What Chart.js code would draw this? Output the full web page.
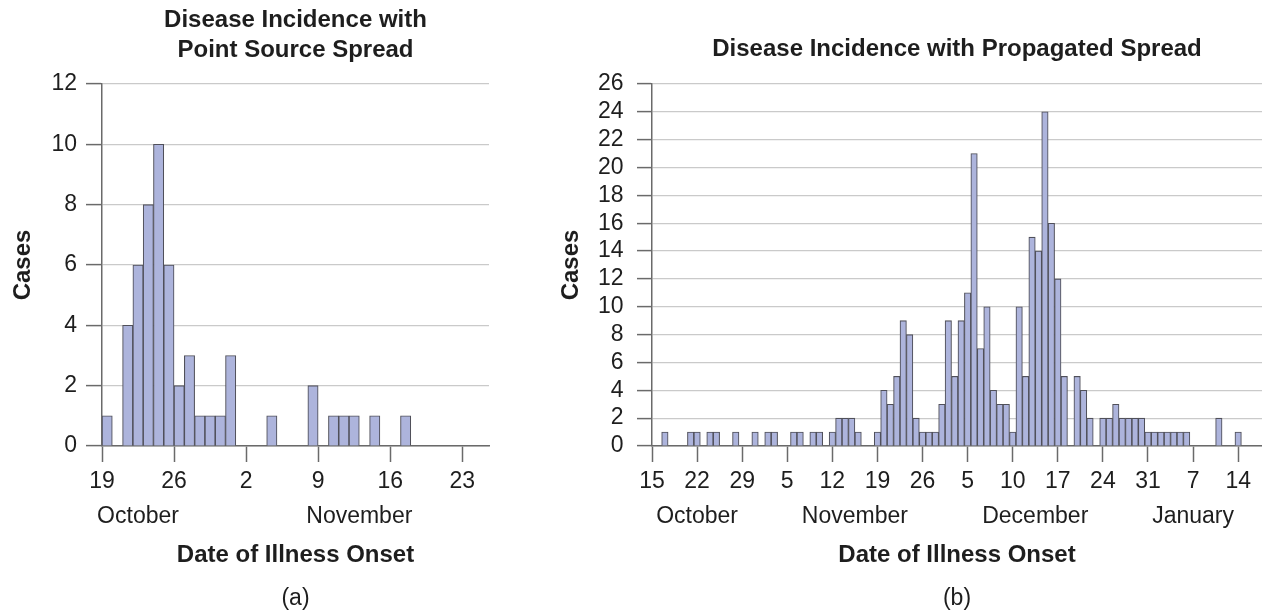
<!DOCTYPE html>
<html><head><meta charset="utf-8">
<script src="https://cdn.jsdelivr.net/npm/chart.js@4.4.1/dist/chart.umd.min.js"></script>
<style>
html,body{margin:0;padding:0;background:#fff;width:1262px;height:611px;overflow:hidden}
.c{position:absolute;top:0}
canvas{display:block}
</style></head><body>
<div class="c" style="left:0"><canvas id="a" width="545" height="611"></canvas></div>
<div class="c" style="left:545px"><canvas id="b" width="717" height="611"></canvas></div>
<script>
// ---------- (a) Point source spread ----------
const pointTitle = ['Disease Incidence with', 'Point Source Spread'];
const pointFirstDay = 0;            // day 0 = October 19
const pointCases = [1,0,4,6,8,10,6,2,3,1,1,1,3,0,0,0,1,0,0,0,2,0,1,1,1,0,1,0,0,1];
const pointTickLabels = ['19','26','2','9','16','23'];
const pointMonths = ['October','November'];
const pointMonthDays = [3.5, 25];

// ---------- (b) Propagated spread ----------
const propTitle = 'Disease Incidence with Propagated Spread';
const propFirstDay = 2;             // day 0 = October 15
const propCases = [1,0,0,0,1,1,0,1,1,0,
                   0,1,0,0,1,0,1,1,0,0,
                   1,1,0,1,1,0,1,2,2,2,
                   1,0,0,1,4,3,5,9,8,2,
                   1,1,1,3,9,5,9,11,21,7,
                   10,4,3,3,1,10,5,15,14,24,
                   16,12,5,0,5,4,2,0,2,2,
                   3,2,2,2,2,1,1,1,1,1,
                   1,1,0,0,0,0,2,0,0,1];
const propTickLabels = ['15','22','29','5','12','19','26','5','10','17','24','31','7','14'];
const propMonths = ['October','November','December','January'];
const propMonthDays = [7, 31.5, 59.5, 84];

Chart.defaults.font.family = "'Liberation Sans', Arial, Helvetica, sans-serif";
Chart.defaults.color = '#1e1e1e';

const FILL = '#adb4dc', EDGE = '#50505a', GRID = '#cacaca', AXIS = '#6a6a6a';

function build(id, o) {
  const pts = [];
  o.cases.forEach((v, i) => { if (v > 0) pts.push({x: o.firstDay + i + o.barShift, y: v}); });
  return new Chart(document.getElementById(id), {
    type: 'bar',
    data: {datasets: [{data: pts, backgroundColor: FILL, borderColor: EDGE, borderWidth: 1.1,
      barPercentage: 1, categoryPercentage: 1, borderSkipped: 'start'}]},
    options: {
      responsive: false, animation: false, events: [],
      layout: {padding: o.pad},
      plugins: {
        legend: {display: false}, tooltip: {enabled: false},
        title: {display: true, text: o.title, fullSize: false, color: '#1e1e1e',
          font: {size: 24, weight: 'bold', lineHeight: 1.22}, padding: o.titlePad},
        subtitle: {display: true, position: 'bottom', fullSize: false, text: o.tag, color: '#1e1e1e',
          font: {size: 23, weight: 'normal', lineHeight: 1}, padding: {top: 17, bottom: 1}}
      },
      scales: {
        x: {type: 'linear', position: 'bottom', min: 0, max: o.xMax, offset: false, weight: 0,
          afterBuildTicks: s => { s.ticks = o.tickLabels.map((_, i) => ({value: i * 7})); },
          afterFit: s => { s.height = 50; },
          ticks: {autoSkip: false, maxRotation: 0, minRotation: 0, padding: 6, font: {size: 23},
            callback: (v, i) => o.tickLabels[i]},
          grid: {display: true, drawOnChartArea: false, drawTicks: true, tickLength: 16,
            tickColor: AXIS, tickWidth: 1.5, offset: false},
          border: {display: true, color: AXIS, width: 1.5}},
        m: {type: 'linear', position: 'bottom', min: 0, max: o.xMax, offset: false, weight: 1,
          afterBuildTicks: s => { s.ticks = o.monthDays.map(v => ({value: v})); },
          afterFit: s => { s.height = 74; },
          ticks: {autoSkip: false, maxRotation: 0, minRotation: 0, padding: 6.5, font: {size: 23},
            callback: (v, i) => o.months[i]},
          grid: {display: false, drawTicks: false, offset: false},
          border: {display: false},
          title: {display: true, text: 'Date of Illness Onset', color: '#1e1e1e',
            font: {size: 24, weight: 'bold', lineHeight: 1.2}, padding: {top: 0, bottom: 0}}},
        y: {type: 'linear', min: 0, max: o.yMax,
          ticks: {stepSize: 2, autoSkip: false, padding: o.yPad, font: {size: 23, lineHeight: 1}},
          afterFit: s => { s.width = o.yWidth; },
          grid: {color: GRID, lineWidth: 1.2, tickColor: AXIS, tickLength: o.yTick, tickWidth: 1.5},
          border: {display: true, color: AXIS, width: 1.5},
          title: {display: true, text: 'Cases', color: '#1e1e1e',
            font: {size: 24, weight: 'bold', lineHeight: 1.2}, padding: {top: o.yTitlePad, bottom: 0}}}
      }
    }
  });
}

build('a', {
  cases: pointCases, firstDay: pointFirstDay, barShift: 0.5,
  title: pointTitle, tag: '(a)', tickLabels: pointTickLabels,
  months: pointMonths, monthDays: pointMonthDays,
  xMax: 37.6, yMax: 12,
  pad: {left: 0, right: 56, top: 0, bottom: 0},
  titlePad: {top: 6, bottom: 19.4},
  yWidth: 102, yTick: 16, yPad: 9, yTitlePad: 8.6
});

build('b', {
  cases: propCases, firstDay: propFirstDay, barShift: 0,
  title: propTitle, tag: '(b)', tickLabels: propTickLabels,
  months: propMonths, monthDays: propMonthDays,
  xMax: 94.7, yMax: 26,
  pad: {left: 0, right: 0, top: 0, bottom: 0},
  titlePad: {top: 35, bottom: 19.7},
  yWidth: 107, yTick: 15, yPad: 13.4, yTitlePad: 12.4
});
</script>
</body></html>
